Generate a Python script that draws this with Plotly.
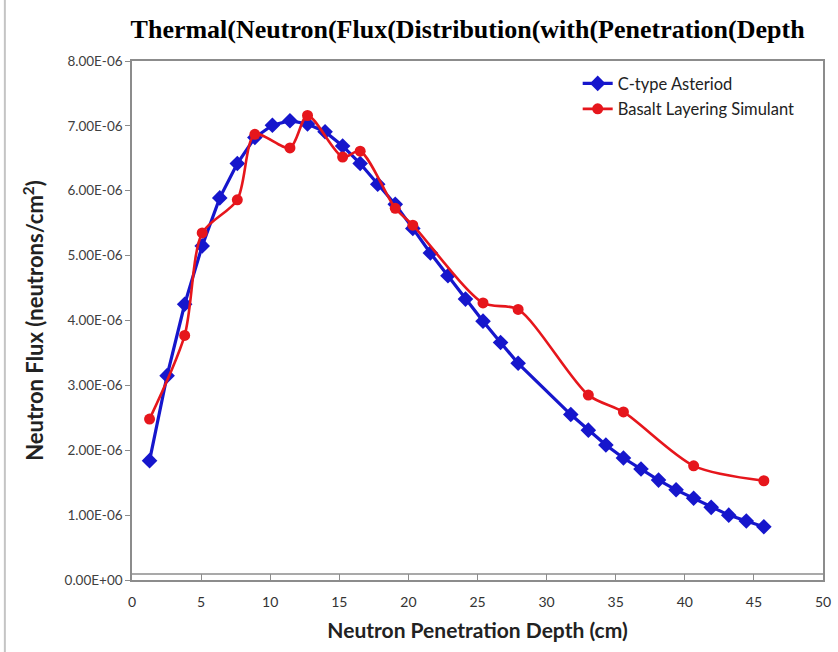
import plotly.graph_objects as go

# Data (depth in cm, flux in neutrons/cm^2)
c_type_depth = [1.27, 2.54, 3.81, 5.08, 6.35, 7.62, 8.89, 10.16, 11.43, 12.70, 13.97, 15.24,
                16.51, 17.78, 19.05, 20.32, 21.59, 22.86, 24.13, 25.40, 26.67, 27.94,
                31.75, 33.02, 34.29, 35.56, 36.83, 38.10, 39.37, 40.64, 41.91, 43.18, 44.45, 45.72]
c_type_flux = [1.84e-6, 3.15e-6, 4.25e-6, 5.15e-6, 5.89e-6, 6.42e-6, 6.82e-6, 7.01e-6, 7.08e-6,
               7.03e-6, 6.91e-6, 6.69e-6, 6.42e-6, 6.10e-6, 5.79e-6, 5.42e-6, 5.04e-6, 4.69e-6,
               4.33e-6, 3.99e-6, 3.66e-6, 3.34e-6,
               2.55e-6, 2.31e-6, 2.08e-6, 1.88e-6, 1.71e-6, 1.54e-6, 1.39e-6, 1.26e-6, 1.12e-6,
               1.00e-6, 0.91e-6, 0.82e-6]

basalt_depth = [1.27, 3.81, 5.08, 7.62, 8.89, 11.43, 12.70, 15.24, 16.51, 19.05, 20.32,
                25.40, 27.94, 33.02, 35.56, 40.64, 45.72]
basalt_flux = [2.48e-6, 3.77e-6, 5.35e-6, 5.86e-6, 6.87e-6, 6.66e-6, 7.16e-6, 6.52e-6, 6.61e-6,
               5.73e-6, 5.47e-6, 4.27e-6, 4.17e-6, 2.85e-6, 2.59e-6, 1.76e-6, 1.53e-6]

y_ticks = [0, 1e-6, 2e-6, 3e-6, 4e-6, 5e-6, 6e-6, 7e-6, 8e-6]
y_tick_labels = ["0.00E+00", "1.00E-06", "2.00E-06", "3.00E-06", "4.00E-06",
                 "5.00E-06", "6.00E-06", "7.00E-06", "8.00E-06"]
x_ticks = [0, 5, 10, 15, 20, 25, 30, 35, 40, 45, 50]

BLUE = "#1616CC"
RED = "#E6161C"
FRAME = "#8C8C8C"

fig = go.Figure()
fig.add_trace(go.Scatter(
    x=c_type_depth, y=c_type_flux, name="C-type Asteriod", mode="lines+markers",
    legendgroup="a",
    line=dict(color=BLUE, width=3.2),
    marker=dict(symbol="diamond", size=12, color=BLUE),
))
fig.add_trace(go.Scatter(
    x=basalt_depth, y=basalt_flux, name="Basalt Layering Simulant", mode="lines+markers",
    legendgroup="b",
    line=dict(color=RED, width=2.6, shape="spline", smoothing=0.8),
    marker=dict(symbol="circle", size=11, color=RED),
))

# plot-area inner bottom frame line and outer chart border (decoration)
fig.add_shape(type="line", xref="paper", yref="paper", x0=0, x1=1, y0=0.0116, y1=0.0116,
              line=dict(color=FRAME, width=1.5))
fig.add_shape(type="line", xref="paper", yref="paper", x0=-0.184, x1=-0.184, y0=-0.14, y1=1.12,
              line=dict(color="#C4C4C4", width=2))

fig.update_layout(
    width=838, height=652,
    margin=dict(l=132, r=7, t=61, b=72),
    paper_bgcolor="white", plot_bgcolor="white",
    title=dict(text="<b>Thermal(Neutron(Flux(Distribution(with(Penetration(Depth</b>",
               font=dict(family="Liberation Serif", size=26, color="black"),
               x=0.558, xanchor="center", y=0.955, yanchor="middle"),
    legend=dict(x=0.645, y=0.99, xanchor="left", yanchor="top",
                font=dict(family="Lato", size=16.5, color="#222222"),
                bgcolor="rgba(0,0,0,0)", itemwidth=30, tracegroupgap=1,
                traceorder="grouped"),
    xaxis=dict(range=[0, 50], tickvals=x_ticks, ticks="inside", ticklen=6,
               tickcolor=FRAME, showline=True, linecolor=FRAME, linewidth=1.5,
               mirror=True, showgrid=False, zeroline=False, ticklabeloverflow="allow",
               ticklabelstandoff=8,
               tickfont=dict(family="Lato", size=14, color="#333333"),
               title=dict(text="<b>Neutron Penetration Depth (cm)</b>",
                          font=dict(family="Lato", size=21, color="#222222"), standoff=15)),
    yaxis=dict(range=[0, 8e-6], tickvals=y_ticks, ticktext=y_tick_labels, ticks="outside",
               ticklen=5, tickcolor=FRAME, showline=True, linecolor=FRAME,
               linewidth=1.5, mirror=True, showgrid=False, zeroline=False,
               tickfont=dict(family="Lato", size=13.5, color="#404040"),
               title=dict(text="<b>Neutron Flux (neutrons/cm<sup>2</sup>)</b>",
                          font=dict(family="Lato", size=22, color="#222222"), standoff=15)),
)

fig.write_html("out.html")
